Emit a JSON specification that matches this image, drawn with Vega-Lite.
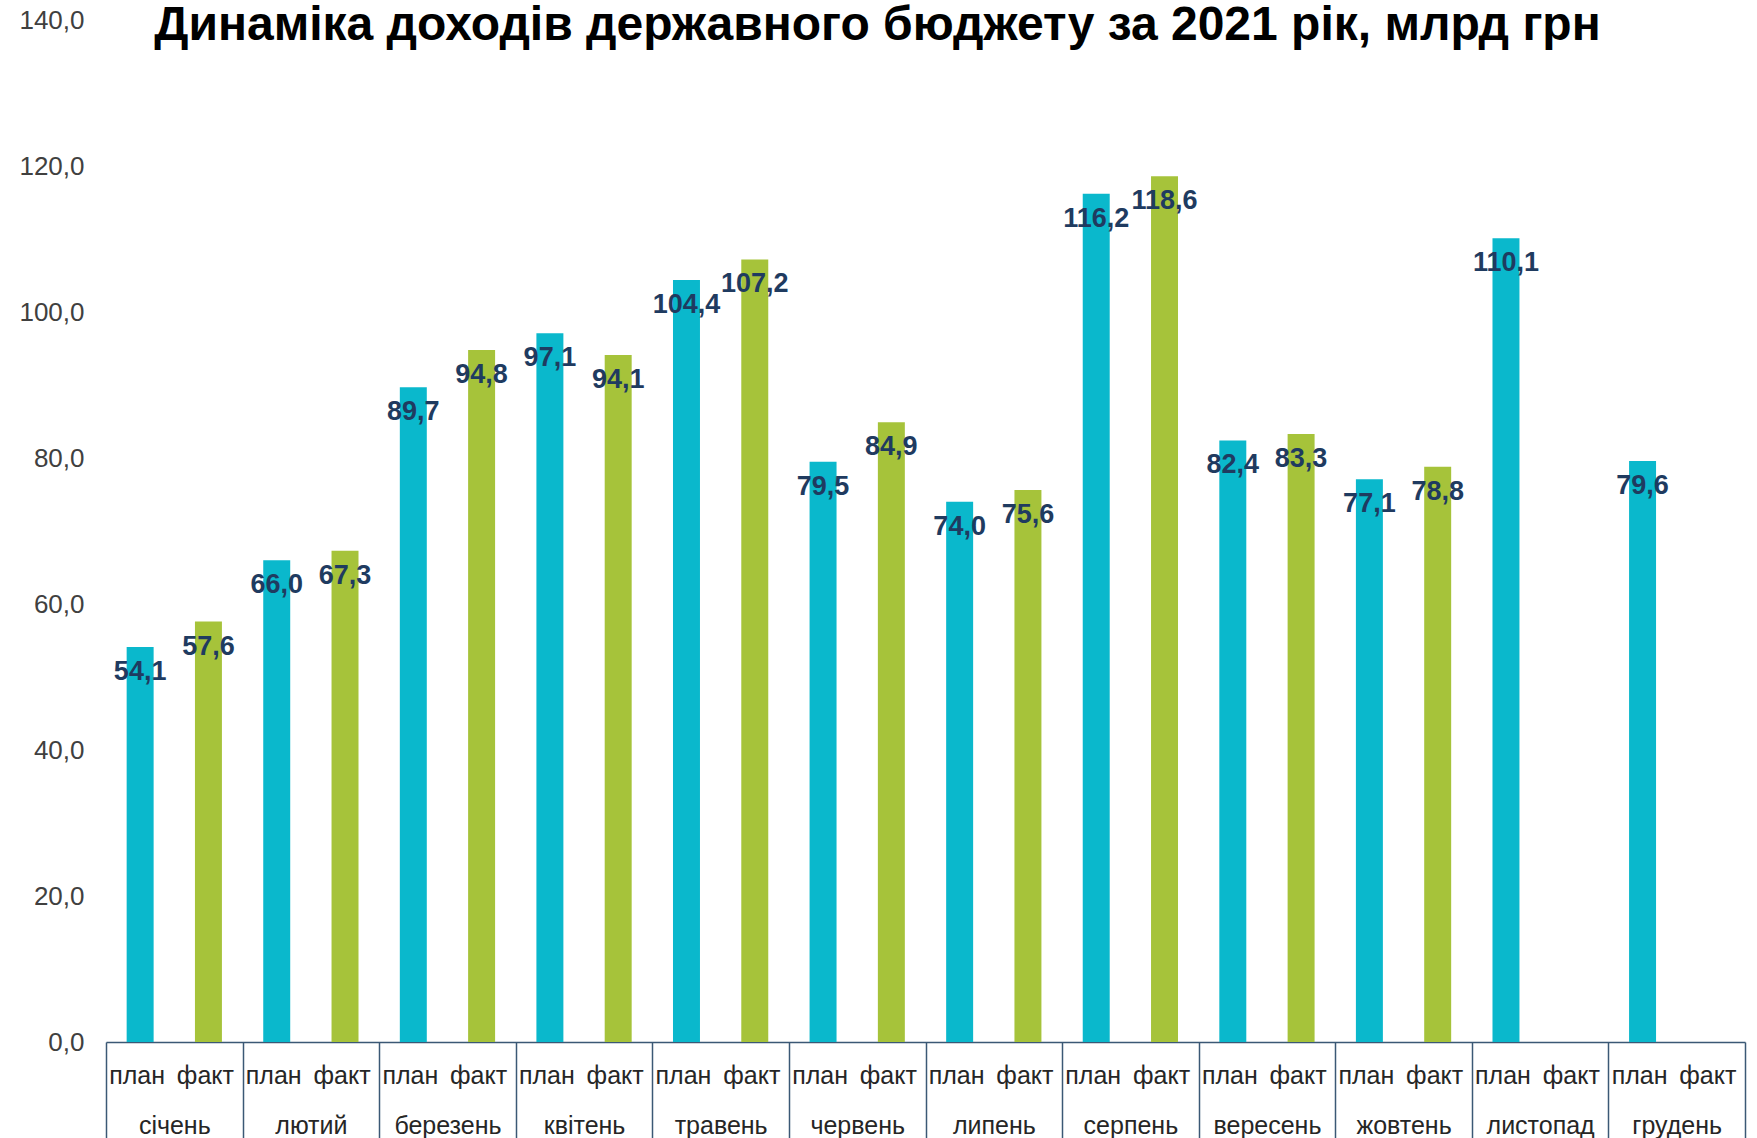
{
  "$schema": "https://vega.github.io/schema/vega-lite/v6.json",
  "width": 1639,
  "height": 1022,
  "autosize": "none",
  "padding": {"left": 106, "top": 20, "right": 12, "bottom": 96},
  "background": "white",
  "config": {
    "view": {"stroke": null},
    "font": "Liberation Sans",
    "locale": {"number": {"decimal": ",", "thousands": " ", "grouping": [3], "currency": ["", ""]}}
  },
  "title": {
    "text": "Динаміка доходів державного бюджету за 2021 рік, млрд грн",
    "font": "Liberation Sans",
    "fontSize": 48,
    "fontWeight": "bold",
    "color": "#000000",
    "anchor": "middle",
    "frame": "group",
    "baseline": "alphabetic",
    "offset": 0,
    "dx": -48,
    "dy": 81
  },
  "data": {
    "values": [
      {"month": "січень", "type": "план", "k": "січень план", "value": 54.1},
      {"month": "січень", "type": "факт", "k": "січень факт", "value": 57.6},
      {"month": "лютий", "type": "план", "k": "лютий план", "value": 66.0},
      {"month": "лютий", "type": "факт", "k": "лютий факт", "value": 67.3},
      {"month": "березень", "type": "план", "k": "березень план", "value": 89.7},
      {"month": "березень", "type": "факт", "k": "березень факт", "value": 94.8},
      {"month": "квітень", "type": "план", "k": "квітень план", "value": 97.1},
      {"month": "квітень", "type": "факт", "k": "квітень факт", "value": 94.1},
      {"month": "травень", "type": "план", "k": "травень план", "value": 104.4},
      {"month": "травень", "type": "факт", "k": "травень факт", "value": 107.2},
      {"month": "червень", "type": "план", "k": "червень план", "value": 79.5},
      {"month": "червень", "type": "факт", "k": "червень факт", "value": 84.9},
      {"month": "липень", "type": "план", "k": "липень план", "value": 74.0},
      {"month": "липень", "type": "факт", "k": "липень факт", "value": 75.6},
      {"month": "серпень", "type": "план", "k": "серпень план", "value": 116.2},
      {"month": "серпень", "type": "факт", "k": "серпень факт", "value": 118.6},
      {"month": "вересень", "type": "план", "k": "вересень план", "value": 82.4},
      {"month": "вересень", "type": "факт", "k": "вересень факт", "value": 83.3},
      {"month": "жовтень", "type": "план", "k": "жовтень план", "value": 77.1},
      {"month": "жовтень", "type": "факт", "k": "жовтень факт", "value": 78.8},
      {"month": "листопад", "type": "план", "k": "листопад план", "value": 110.1},
      {"month": "листопад", "type": "факт", "k": "листопад факт", "value": null},
      {"month": "грудень", "type": "план", "k": "грудень план", "value": 79.6},
      {"month": "грудень", "type": "факт", "k": "грудень факт", "value": null}
    ]
  },
  "layer": [
    {
      "encoding": {
        "x": {
          "field": "month",
          "type": "nominal",
          "sort": null,
          "scale": {
            "domain": ["січень", "лютий", "березень", "квітень", "травень", "червень", "липень", "серпень", "вересень", "жовтень", "листопад", "грудень"],
            "paddingInner": 0,
            "paddingOuter": 0
          },
          "axis": {
            "orient": "bottom",
            "title": null,
            "labelAngle": 0,
            "labelFont": "Liberation Sans",
            "labelFontSize": 25,
            "labelColor": "#262626",
            "labelBaseline": "alphabetic",
            "labelPadding": -5,
            "tickBand": "extent",
            "tickSize": 96,
            "tickColor": "#3b5875",
            "tickWidth": 1.5,
            "domainColor": "#3b5875",
            "domainWidth": 1.5,
            "grid": false
          }
        },
        "xOffset": {
          "field": "type",
          "type": "nominal",
          "sort": null,
          "scale": {"domain": ["план", "факт"], "paddingInner": 0.605, "paddingOuter": 0.3025}
        },
        "y": {
          "field": "value",
          "type": "quantitative",
          "scale": {"domain": [0, 140], "nice": false, "zero": true},
          "axis": {
            "title": null,
            "values": [0, 20, 40, 60, 80, 100, 120, 140],
            "format": ".1f",
            "domain": false,
            "ticks": false,
            "grid": false,
            "labelFont": "Liberation Sans",
            "labelFontSize": 26,
            "labelColor": "#404040",
            "labelPadding": 22
          }
        }
      },
      "layer": [
        {
          "mark": {"type": "bar"},
          "encoding": {
            "color": {
              "field": "type",
              "type": "nominal",
              "scale": {"domain": ["план", "факт"], "range": ["#0ab8cc", "#a6c33a"]},
              "legend": null
            }
          }
        },
        {
          "mark": {
            "type": "text",
            "baseline": "middle",
            "align": "center",
            "dy": 25,
            "font": "Liberation Sans",
            "fontSize": 27,
            "fontWeight": "bold",
            "color": "#1f3b60"
          },
          "encoding": {
            "text": {"field": "value", "type": "quantitative", "format": ".1f"}
          }
        }
      ]
    },
    {
      "mark": {"type": "tick", "opacity": 0},
      "encoding": {
        "x": {
          "field": "k",
          "type": "nominal",
          "sort": null,
          "scale": {
            "domain": ["січень план", "січень факт", "лютий план", "лютий факт", "березень план", "березень факт", "квітень план", "квітень факт", "травень план", "травень факт", "червень план", "червень факт", "липень план", "липень факт", "серпень план", "серпень факт", "вересень план", "вересень факт", "жовтень план", "жовтень факт", "листопад план", "листопад факт", "грудень план", "грудень факт"],
            "paddingInner": 0,
            "paddingOuter": 0
          },
          "axis": {
            "orient": "bottom",
            "title": null,
            "labelAngle": 0,
            "labelExpr": "split(datum.value, ' ')[1]",
            "labelFont": "Liberation Sans",
            "labelFontSize": 25,
            "labelColor": "#262626",
            "labelBaseline": "alphabetic",
            "labelPadding": 41,
            "labelOffset": -3,
            "ticks": false,
            "domain": false,
            "grid": false
          }
        }
      }
    }
  ],
  "resolve": {"scale": {"x": "independent"}, "axis": {"x": "independent"}}
}
